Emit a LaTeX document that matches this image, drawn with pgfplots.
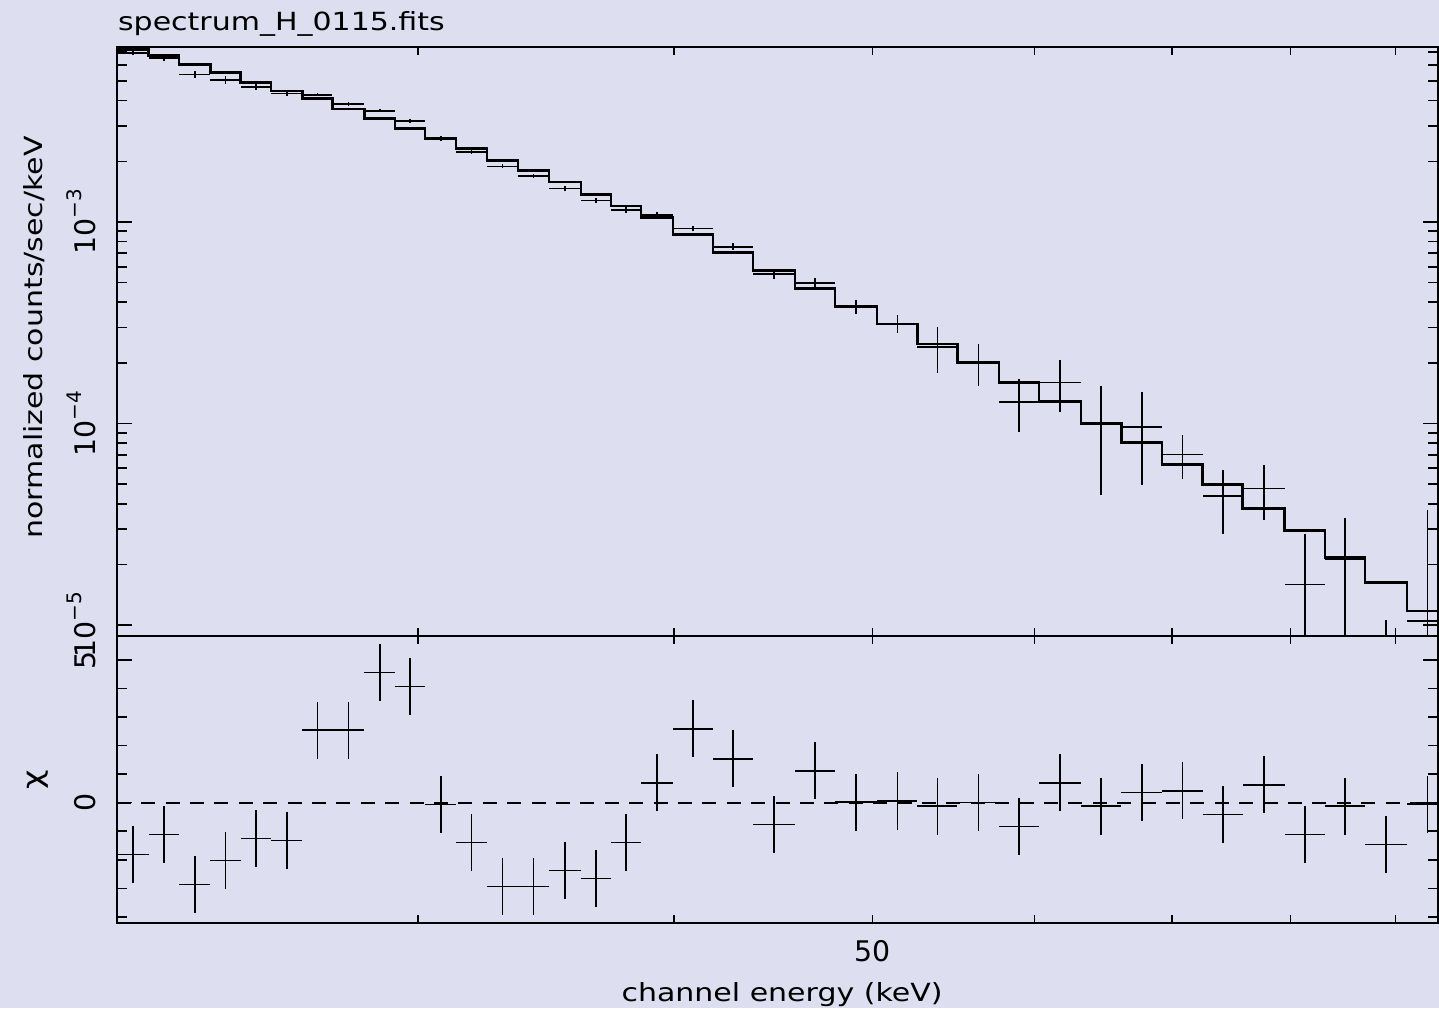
\documentclass[border=0pt]{standalone}
\usepackage{pgfplots}
\pgfplotsset{compat=1.18}
\usepackage{pgfplotstable}
\usepackage{fontspec}
\setmainfont{DejaVu Sans}
\newfontfamily\hfont{DejaVu Sans}[FakeStretch=1.2]
\definecolor{bg}{RGB}{221,222,240}
\newcommand{\ex}[1]{10\raisebox{7pt}{\fontsize{10}{10}\selectfont −#1}}

\pgfplotstableread{
lo hi d sp sm
21.385 22.168 6.91e-3 1.6e-4 1.6e-4
22.168 22.935 6.495e-3 1.76e-4 1.76e-4
22.935 23.761 5.408e-3 2.28e-4 2.28e-4
23.761 24.581 5.066e-3 2.29e-4 2.29e-4
24.581 25.432 4.693e-3 1.92e-4 1.92e-4
25.432 26.348 4.334e-3 1.0e-4 1.0e-4
26.348 27.251 4.282e-3 0.76e-4 0.76e-4
27.251 28.248 3.851e-3 0.84e-4 0.84e-4
28.248 29.243 3.567e-3 0.68e-4 0.68e-4
29.243 30.245 3.182e-3 0.68e-4 0.68e-4
30.245 31.316 2.599e-3 0.65e-4 0.65e-4
31.316 32.425 2.233e-3 0.64e-4 0.64e-4
32.425 33.574 1.890e-3 0.456e-4 0.456e-4
33.574 34.764 1.686e-3 0.405e-4 0.405e-4
34.764 36.037 1.470e-3 0.458e-4 0.458e-4
36.037 37.273 1.281e-3 0.342e-4 0.342e-4
37.273 38.551 1.147e-3 0.39e-4 0.39e-4
38.551 39.962 1.082e-3 0.38e-4 0.38e-4
39.962 41.800 9.284e-4 0.23e-4 0.23e-4
41.800 43.721 7.542e-4 0.30e-4 0.30e-4
43.721 45.834 5.517e-4 0.30e-4 0.30e-4
45.834 47.940 4.997e-4 0.276e-4 0.276e-4
47.940 50.256 3.80e-4 0.30e-4 0.30e-4
50.256 52.595 3.137e-4 0.33e-4 0.33e-4
52.595 55.014 2.405e-4 0.625e-4 0.625e-4
55.014 57.638 2.003e-4 0.476e-4 0.476e-4
57.638 60.288 1.283e-4 0.379e-4 0.379e-4
60.288 63.200 1.601e-4 0.454e-4 0.454e-4
63.200 66.142 0.994e-4 0.55e-4 0.55e-4
66.142 69.220 9.64e-5 4.685e-5 4.685e-5
69.220 72.483 7.035e-5 1.7e-5 1.7e-5
72.483 75.818 4.367e-5 1.54e-5 1.54e-5
75.818 79.484 4.77e-5 1.44e-5 1.44e-5
79.484 83.137 1.592e-5 1.224e-5 1.224e-5
83.137 86.959 2.118e-5 1.28e-5 1.28e-5
86.959 91.160 2.0e-6 0.859e-5 1.0e-6
91.160 95.456 1.05e-5 2.67e-5 0.95e-5
}\spec

\pgfplotstableread{
lo hi chi
21.385 22.168 -1.81
22.168 22.935 -1.11
22.935 23.761 -2.87
23.761 24.581 -2.03
24.581 25.432 -1.26
25.432 26.348 -1.33
26.348 27.251 2.54
27.251 28.248 2.54
28.248 29.243 4.56
29.243 30.245 4.07
30.245 31.316 -0.06
31.316 32.425 -1.39
32.425 33.574 -2.94
33.574 34.764 -2.94
34.764 36.037 -2.38
36.037 37.273 -2.66
37.273 38.551 -1.39
38.551 39.962 0.70
39.962 41.800 2.59
41.800 43.721 1.54
43.721 45.834 -0.76
45.834 47.940 1.12
47.940 50.256 0.02
50.256 52.595 0.06
52.595 55.014 -0.12
55.014 57.638 0.0
57.638 60.288 -0.84
60.288 63.200 0.70
63.200 66.142 -0.12
66.142 69.220 0.36
69.220 72.483 0.42
72.483 75.818 -0.41
75.818 79.484 0.63
79.484 83.137 -1.11
83.137 86.959 -0.12
86.959 91.160 -1.47
91.160 95.456 -0.05
}\resid

\pgfplotstableread{
e m
21.385 7.196e-3
22.168 6.690e-3
22.935 6.061e-3
23.761 5.531e-3
24.581 4.935e-3
25.432 4.467e-3
26.348 4.090e-3
27.251 3.637e-3
28.248 3.256e-3
29.243 2.904e-3
30.245 2.603e-3
31.316 2.322e-3
32.425 2.024e-3
33.574 1.805e-3
34.764 1.579e-3
36.037 1.372e-3
37.273 1.201e-3
38.551 1.055e-3
39.962 8.689e-4
41.800 7.074e-4
43.721 5.745e-4
45.834 4.688e-4
47.940 3.799e-4
50.256 3.117e-4
52.595 2.480e-4
55.014 2.003e-4
57.638 1.601e-4
60.288 1.283e-4
63.200 1.002e-4
66.142 8.03e-5
69.220 6.272e-5
72.483 4.993e-5
75.818 3.795e-5
79.484 2.951e-5
83.137 2.158e-5
86.959 1.629e-5
91.160 1.173e-5
95.456 1.173e-5
}\model

\begin{document}
\begin{tikzpicture}[x=1pt,y=1pt]
\fill[bg] (0,0) rectangle (719.5,504);

\begin{axis}[
  scale only axis,
  at={(58.35pt,186pt)}, anchor=south west,
  width=660.65pt, height=294.65pt,
  xmode=log, ymode=log,
  xmin=21.385, xmax=94.42,
  ymin=8.82e-6, ymax=7.413e-3,
  axis line style={line width=1pt, black},
  tick align=inside,
  tick style={line width=0.8pt, black},
  major tick length=7.5pt, minor tick length=5pt,
  xtick style={/pgfplots/major tick length=4pt, /pgfplots/minor tick length=4pt},
  xtick={50}, xticklabels={},
  minor xtick={30,40,60,70,80,90},
  ytick={1e-5,1e-4,1e-3},
  yticklabels={\ex{5},\ex{4},\ex{3}},
  minor ytick={2e-5,3e-5,4e-5,5e-5,6e-5,7e-5,8e-5,9e-5,2e-4,3e-4,4e-4,5e-4,6e-4,7e-4,8e-4,9e-4,2e-3,3e-3,4e-3,5e-3,6e-3,7e-3},
  tick label style={font=\fontsize{14.2}{14}\selectfont},
  yticklabel style={rotate=90, anchor=south, inner sep=0pt},
  yticklabel shift=10pt,
]
\addplot[const plot, line width=1.3pt, black] table[x=e, y=m] {\model};
\addplot[draw=none, mark=none,
  error bars/x dir=both, error bars/x explicit,
  error bars/y dir=both, error bars/y explicit,
  error bars/error mark=none,
  error bars/error bar style={draw=black, line width=0.8pt, solid}]
  table[x expr={(\thisrow{lo}+\thisrow{hi})/2}, y=d,
  x error expr={(\thisrow{hi}-\thisrow{lo})/2},
  y error plus=sp, y error minus=sm] {\spec};
\end{axis}

\begin{axis}[
  scale only axis,
  at={(58.35pt,42.65pt)}, anchor=south west,
  width=660.65pt, height=143.35pt,
  xmode=log,
  xmin=21.385, xmax=94.42,
  ymin=-4.205, ymax=5.841,
  axis line style={line width=1pt, black},
  tick align=inside,
  tick style={line width=0.8pt, black},
  major tick length=7.5pt, minor tick length=5pt,
  xtick style={/pgfplots/major tick length=4pt, /pgfplots/minor tick length=4pt},
  xtick={50}, xticklabels={50},
  minor xtick={30,40,60,70,80,90},
  ytick={0,5}, yticklabels={0,5},
  minor ytick={-4,-3,-2,-1,1,2,3,4},
  tick label style={font=\fontsize{14.2}{14}\selectfont},
  yticklabel style={rotate=90, anchor=south, inner sep=0pt},
  yticklabel shift=10pt,
  xticklabel style={anchor=north, inner sep=0pt},
  xticklabel shift=8.6pt,
]
\addplot[line width=0.9pt, black, dash pattern=on 7pt off 5.2pt] coordinates {(21.385,0) (94.42,0)};
\addplot[draw=none, mark=none,
  error bars/x dir=both, error bars/x explicit,
  error bars/y dir=both, error bars/y explicit,
  error bars/error mark=none,
  error bars/error bar style={draw=black, line width=0.8pt, solid}]
  table[x expr={(\thisrow{lo}+\thisrow{hi})/2}, y=chi,
  x error expr={(\thisrow{hi}-\thisrow{lo})/2},
  y error expr=1] {\resid};
\end{axis}

\node[anchor=base west, inner sep=0pt, font=\hfont\fontsize{12.5}{14}\selectfont] at (58.85,488.65) {spectrum\_H\_0115.fits};
\node[anchor=base, inner sep=0pt, font=\hfont\fontsize{12.5}{14}\selectfont] at (391,3.25) {channel energy (keV)};
\node[anchor=base, rotate=90, inner sep=0pt, font=\hfont\fontsize{12.5}{14}\selectfont] at (21,335.25) {normalized counts/sec/keV};
\node[anchor=base, rotate=90, inner sep=0pt, font=\hfont\fontsize{14}{14}\selectfont] at (21,114) {χ};

\pgfresetboundingbox
\useasboundingbox (0,0) rectangle (719.5,504);
\end{tikzpicture}
\end{document}
